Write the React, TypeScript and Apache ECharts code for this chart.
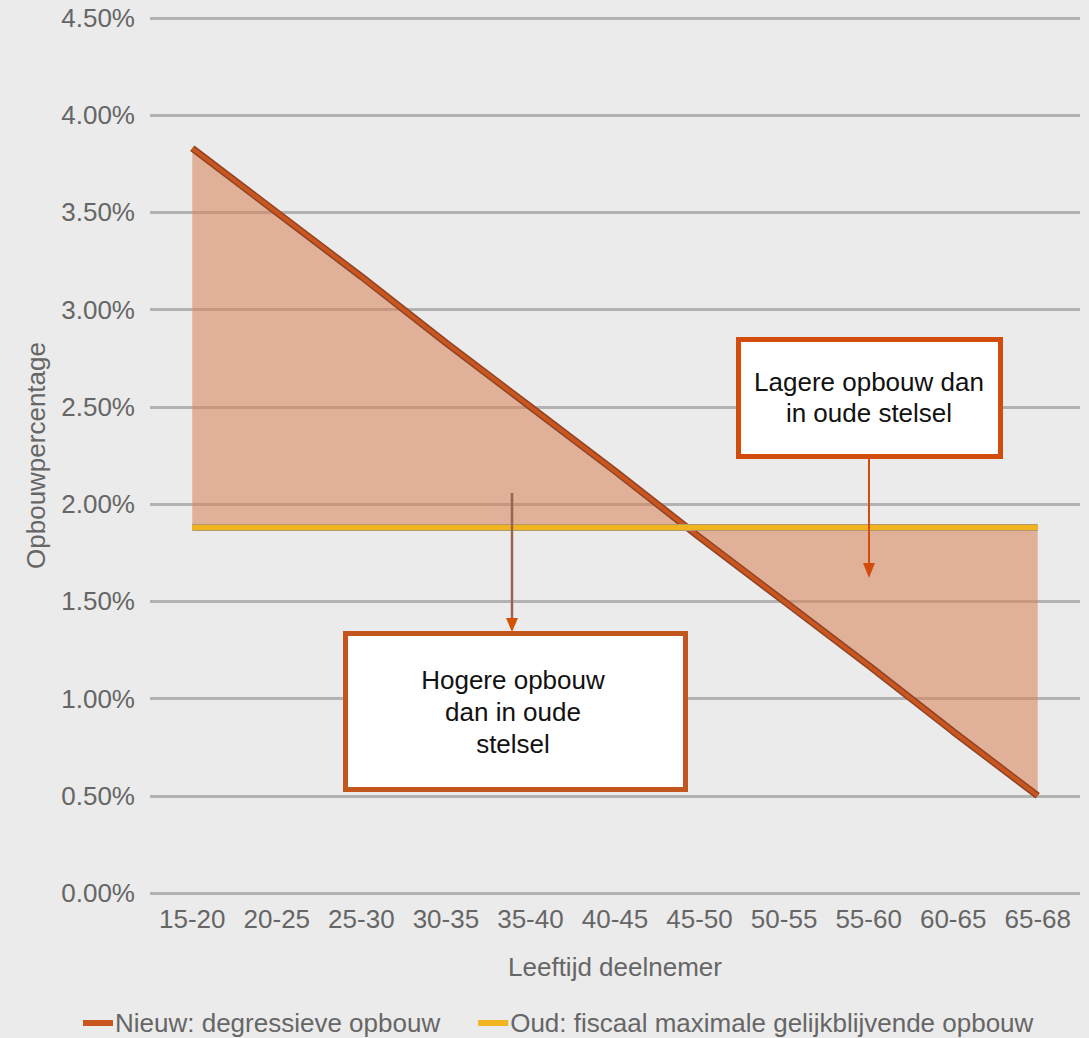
import React, { useEffect, useRef } from "react";
import * as echarts from "echarts";

const categories = ["15-20", "20-25", "25-30", "30-35", "35-40", "40-45", "45-50", "50-55", "55-60", "60-65", "65-68"];
const nieuwValues = [3.83, 3.5, 3.17, 2.83, 2.5, 2.17, 1.83, 1.5, 1.17, 0.83, 0.5];
const oudValues = [1.88, 1.88, 1.88, 1.88, 1.88, 1.88, 1.88, 1.88, 1.88, 1.88, 1.88];
const oudLevel = 1.88;
const seriesNames = ["Nieuw: degressieve opbouw", "Oud: fiscaal maximale gelijkblijvende opbouw"];
const axisNames = { x: "Leeftijd deelnemer", y: "Opbouwpercentage" };
const noteLower = ["Lagere opbouw dan", "in oude stelsel"];
const noteHigher = ["Hogere opbouw", "dan in oude", "stelsel"];

const FONT = "'Liberation Sans', Arial, sans-serif";
const GRAY = "#666666";
const FS = 26;

export default function App() {
  const ref = useRef<HTMLDivElement>(null);
  useEffect(() => {
    if (!ref.current) return;
    const chart = echarts.init(ref.current, null, { renderer: "svg" });
    const txt = (t: string, x: number, y: number) => ({
      type: "text",
      z: 101,
      style: { text: t, x, y, fill: "#111111", font: `26px ${FONT}`, textAlign: "center", textVerticalAlign: "middle" },
    });
    chart.setOption({
      animation: false,
      backgroundColor: "#ebebeb",
      textStyle: { fontFamily: FONT },
      grid: { left: 150, right: 9, top: 18, bottom: 145 },
      legend: {
        data: seriesNames,
        left: 78,
        top: 1005,
        icon: "rect",
        itemWidth: 30,
        itemHeight: 6,
        itemGap: 38,
        textStyle: { fontSize: FS, color: GRAY, fontFamily: FONT, padding: [0, 0, 0, -3] },
      },
      xAxis: {
        type: "category",
        data: categories,
        boundaryGap: true,
        axisLine: { show: false },
        axisTick: { show: false },
        axisLabel: { fontSize: FS, color: GRAY, margin: 13, fontFamily: FONT, interval: 0 },
        name: axisNames.x,
        nameLocation: "middle",
        nameGap: 61,
        nameTextStyle: { fontSize: FS, color: GRAY, fontFamily: FONT },
      },
      yAxis: {
        type: "value",
        min: 0,
        max: 4.5,
        interval: 0.5,
        axisLine: { show: false },
        axisTick: { show: false },
        splitLine: { lineStyle: { color: "#b3b3b3", width: 3 } },
        axisLabel: { fontSize: FS, color: GRAY, margin: 15, fontFamily: FONT, formatter: (v: number) => v.toFixed(2) + "%" },
        name: axisNames.y,
        nameLocation: "middle",
        nameGap: 101,
        nameTextStyle: { fontSize: FS, color: GRAY, fontFamily: FONT },
      },
      series: [
        {
          name: "fill",
          type: "line",
          data: nieuwValues,
          symbol: "none",
          lineStyle: { width: 0, opacity: 0 },
          areaStyle: { origin: oudLevel, color: "rgba(217,127,83,0.55)", opacity: 1 },
          z: 3,
          silent: true,
        },
        {
          name: "nieuwEdge",
          type: "line",
          data: nieuwValues,
          symbol: "none",
          lineStyle: { width: 7, color: "#8f4324" },
          z: 4,
          silent: true,
        },
        {
          name: seriesNames[0],
          type: "line",
          data: nieuwValues,
          symbol: "none",
          itemStyle: { color: "#c9561f" },
          lineStyle: { width: 4, color: "#c9561f" },
          z: 5,
        },
        {
          name: "oudEdge",
          type: "line",
          data: oudValues,
          symbol: "none",
          lineStyle: { width: 7, color: "#b09a6a" },
          z: 6,
          silent: true,
        },
        {
          name: seriesNames[1],
          type: "line",
          data: oudValues,
          symbol: "none",
          itemStyle: { color: "#f1b41e" },
          lineStyle: { width: 5, color: "#f1b41e" },
          z: 7,
        },
      ],
      graphic: [
        { type: "rect", z: 100, shape: { x: 738.5, y: 339.5, width: 262, height: 117 }, style: { fill: "#ffffff", stroke: "#d24d0c", lineWidth: 5 } },
        txt(noteLower[0], 869, 382),
        txt(noteLower[1], 869, 413),
        { type: "line", z: 100, shape: { x1: 869, y1: 459, x2: 869, y2: 566 }, style: { stroke: "#d24d0c", lineWidth: 2 } },
        { type: "polygon", z: 100, shape: { points: [[863, 563], [875, 563], [869, 578]] }, style: { fill: "#d24d0c" } },
        { type: "rect", z: 100, shape: { x: 345.5, y: 633.5, width: 340, height: 156 }, style: { fill: "#ffffff", stroke: "#c2561e", lineWidth: 5 } },
        txt(noteHigher[0], 513, 680),
        txt(noteHigher[1], 513, 712),
        txt(noteHigher[2], 513, 744),
        { type: "line", z: 100, shape: { x1: 512, y1: 493, x2: 512, y2: 620 }, style: { stroke: "#9c6450", lineWidth: 2.5 } },
        { type: "polygon", z: 100, shape: { points: [[506, 618], [518, 618], [512, 632]] }, style: { fill: "#d35400" } },
      ],
    });
    return () => chart.dispose();
  }, []);
  return <div ref={ref} style={{ position: "absolute", left: 0, top: 0, width: 1089, height: 1038 }} />;
}
